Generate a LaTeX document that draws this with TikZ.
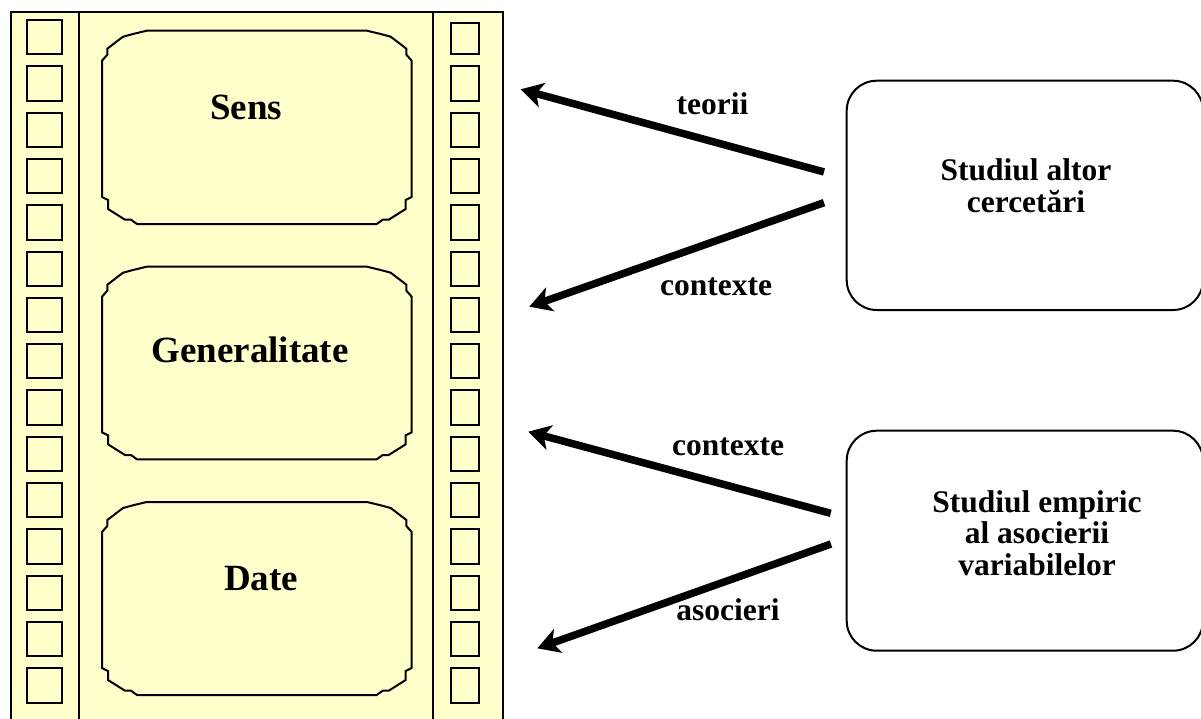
\documentclass[tikz,border=0pt]{standalone}
\usepackage{fontspec}
\setmainfont{Liberation Serif}
\usetikzlibrary{arrows.meta,calc}
\definecolor{filmfill}{HTML}{FFFFCC}

% Frame with snipped, notched corners (x0,y0 top-left; x1,y1 bottom-right; y grows downward)
\newcommand{\snipframe}[4]{%
  \draw[frameline]
    ({#1},{#2+30}) -- ({#1+5.3},{#2+24}) -- ({#1+5.3},{#2+18}) -- ({#1+21},{#2+6})
    -- ({#1+31},{#2+3.3}) -- ({#1+44.7},{#2})
    -- ({#3-44.7},{#2}) -- ({#3-31},{#2+3.3}) -- ({#3-21},{#2+6}) -- ({#3-5.3},{#2+18})
    -- ({#3-5.3},{#2+24}) -- ({#3},{#2+30})
    -- ({#3},{#4-27}) -- ({#3-6},{#4-24}) -- ({#3-6},{#4-15}) -- ({#3-23},{#4-4.3})
    -- ({#3-29},{#4-4.3}) -- ({#3-35},{#4})
    -- ({#1+35},{#4}) -- ({#1+29},{#4-4.3}) -- ({#1+23},{#4-4.3}) -- ({#1+6},{#4-15})
    -- ({#1+6},{#4-24}) -- ({#1},{#4-27}) -- cycle;}

\tikzset{
  frameline/.style={line width=2pt, line join=miter},
  hole/.style={line width=2pt},
  stripedge/.style={line width=1.5pt},
  bigtitle/.style={font=\fontsize{37}{44}\selectfont\bfseries, inner sep=0pt},
  flowlabel/.style={font=\fontsize{31.5}{31}\selectfont\bfseries, inner sep=0pt},
  boxtext/.style={font=\fontsize{31.5}{31.5}\selectfont\bfseries, inner sep=0pt, align=center},
  sourcebox/.style={draw, line width=2pt, rounded corners=30pt, fill=white, inner sep=0pt},
  bigarrow/.style={line width=7.5pt, -{Stealth[length=22pt,width=25pt,inset=6pt]}},
}

\begin{document}
\begin{tikzpicture}[x=1pt,y=-1pt]
\useasboundingbox (0,0) rectangle (1201,718);
\clip (0,0) rectangle (1201,718);
\fill[white] (0,0) rectangle (1201,718);

% film strip
\draw[line width=2pt, fill=filmfill] (10.5,11.7) -- (502.7,11.7) -- (502.7,740) -- (10.5,740) -- cycle;
\draw[stripedge] (79,11.7) -- (79,740);
\draw[stripedge] (433,11.7) -- (433,740);

% perforations
\foreach \k in {0,...,14} {
  \draw[hole] (27.3,{20+46.3*\k}) rectangle ++(35,34.3);
}
\draw[hole] (450.7,23.3) rectangle (479.3,54.3);
\foreach \k in {1,...,14} {
  \draw[hole] (450.7,{20+46.3*\k}) rectangle ++(28.7,34.3);
}

% frames
\snipframe{102}{30.7}{411.7}{224}
\snipframe{102}{266.7}{411.7}{459.3}
\snipframe{102}{502}{411.7}{695}

\node[bigtitle, anchor=base] (sens) at (246,119.3) {Sens};
\node[bigtitle, anchor=base] (gen) at (250,362.3) {Generalitate};
\node[bigtitle, anchor=base] (date) at (261,590) {Date};

% sources
\node[sourcebox, minimum width=356.3pt, minimum height=229.3pt] (other) at (1024.85,195.35) {};
\node[sourcebox, minimum width=356.3pt, minimum height=220pt] (empiric) at (1024.85,540.7) {};
\node[boxtext] (othertext) at (1026,185.5) {Studiul altor\\cercetări};
\node[boxtext] (emptext) at (1037,533) {Studiul empiric\\al asocierii\\variabilelor};

% arrows
\coordinate (t1) at ($(other.west)+(-21.7,-23.4)$);
\coordinate (t2) at ($(other.west)+(-21.7,7.3)$);
\coordinate (t3) at ($(empiric.west)+(-15,-27.4)$);
\coordinate (t4) at ($(empiric.west)+(-14.7,3.3)$);
\coordinate (h1) at (520.7,89.3);
\coordinate (h2) at (529.3,306.7);
\coordinate (h3) at (528.3,431.7);
\coordinate (h4) at (537.3,648.3);
\draw[bigarrow] (t1) -- (h1);
\draw[bigarrow] (t2) -- (h2);
\draw[bigarrow] (t3) -- (h3);
\draw[bigarrow] (t4) -- (h4);

\node[flowlabel, anchor=base] (lteorii) at (712.5,114) {teorii};
\node[flowlabel, anchor=base] (lctx1) at (716,295) {contexte};
\node[flowlabel, anchor=base] (lctx2) at (728,455) {contexte};
\node[flowlabel, anchor=base] (lasoc) at (728,620) {asocieri};
\end{tikzpicture}
\end{document}
